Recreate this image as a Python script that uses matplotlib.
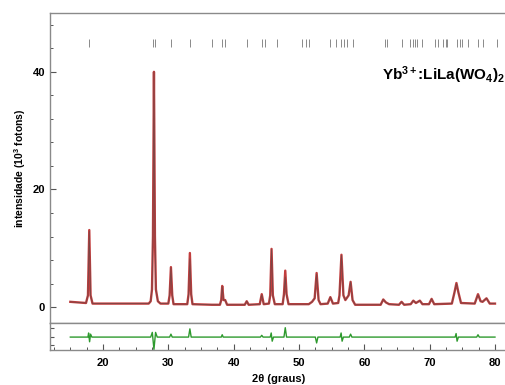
import matplotlib
matplotlib.use("Agg")
import matplotlib.pyplot as plt
from matplotlib.ticker import MultipleLocator

plt.rcParams['font.family'] = ['Liberation Sans', 'DejaVu Sans']
plt.rcParams['font.weight'] = 'bold'
plt.rcParams['mathtext.fontset'] = 'custom'
plt.rcParams['mathtext.rm'] = 'Liberation Sans:bold'
plt.rcParams['mathtext.bf'] = 'Liberation Sans:bold'
plt.rcParams['mathtext.it'] = 'Liberation Sans:bold'
plt.rcParams['mathtext.default'] = 'bf'

# profile points (2theta, intensity in 10^3 photons)
two_theta = [15.0, 17.4, 17.7, 17.9, 18.1, 18.4,
             27.0, 27.3, 27.5, 27.65, 27.8, 27.95, 28.1, 28.4, 28.8,
             30.0, 30.2, 30.4, 30.6, 30.8,
             32.9, 33.1, 33.3, 33.5, 33.7,
             36.7, 37.9, 38.1, 38.25, 38.45, 38.7, 39.0,
             41.7, 42.0, 42.3,
             44.0, 44.3, 44.6,
             45.4, 45.6, 45.8, 46.0, 46.3,
             47.5, 47.7, 47.9, 48.1, 48.4,
             51.5, 52.0, 52.4, 52.7, 53.0, 53.3,
             54.4, 54.8, 55.2,
             56.0, 56.2, 56.5, 56.8, 57.1, 57.6, 57.9, 58.2, 58.6,
             62.5, 62.9, 63.3, 63.8,
             65.3, 65.7, 66.1,
             67.1, 67.5, 67.9, 68.5, 68.9,
             69.9, 70.3, 70.7,
             73.4, 73.8, 74.1, 74.4, 74.8,
             76.9, 77.4, 77.8, 78.1, 78.7, 79.2, 80.0]
obs = [0.9, 0.7, 2.0, 13.1, 2.0, 0.6,
       0.6, 1.0, 3.0, 12.0, 40.0, 12.0, 3.0, 1.0, 0.6,
       0.6, 2.0, 6.8, 2.0, 0.5,
       0.5, 2.2, 9.2, 2.2, 0.5,
       0.4, 0.4, 1.2, 3.6, 1.2, 1.2, 0.4,
       0.4, 1.0, 0.4,
       0.5, 2.2, 0.5,
       0.6, 2.0, 9.9, 2.0, 0.5,
       0.5, 2.2, 6.2, 2.2, 0.5,
       0.5, 0.9, 1.5, 5.8, 1.2, 0.5,
       0.6, 1.7, 0.6,
       0.7, 2.0, 8.9, 2.0, 1.2, 2.0, 4.3, 1.2, 0.4,
       0.4, 1.3, 0.8, 0.5,
       0.4, 0.9, 0.4,
       0.5, 1.1, 0.7, 1.1, 0.5,
       0.5, 1.4, 0.5,
       0.6, 2.5, 4.1, 2.5, 0.7,
       0.6, 2.2, 1.0, 0.9, 1.5, 0.6, 0.6]
calc = [0.9, 0.7, 2.0, 12.9, 2.0, 0.6,
        0.6, 1.0, 3.0, 12.0, 40.0, 12.0, 3.0, 1.0, 0.6,
        0.6, 2.0, 6.7, 2.0, 0.5,
        0.5, 2.0, 8.2, 2.0, 0.5,
        0.4, 0.4, 1.2, 3.5, 1.2, 1.2, 0.4,
        0.4, 1.0, 0.4,
        0.5, 2.1, 0.5,
        0.6, 2.0, 9.8, 2.0, 0.5,
        0.5, 2.0, 5.1, 2.0, 0.5,
        0.5, 0.9, 1.5, 5.6, 1.2, 0.5,
        0.6, 1.7, 0.6,
        0.7, 2.0, 8.8, 2.0, 1.2, 2.0, 4.3, 1.2, 0.4,
        0.4, 1.3, 0.8, 0.5,
        0.4, 0.9, 0.4,
        0.5, 1.1, 0.7, 1.1, 0.5,
        0.5, 1.4, 0.5,
        0.6, 2.5, 4.0, 2.5, 0.7,
        0.6, 2.1, 1.0, 0.9, 1.5, 0.6, 0.6]

# difference curve (obs - calc, offset)
diff_tt = [15.0, 17.7, 17.8, 17.95, 18.1, 18.3, 27.3, 27.55, 27.8, 28.05, 28.3,
           30.2, 30.4, 30.6, 33.1, 33.3, 33.5, 38.1, 38.25, 38.4,
           44.1, 44.3, 44.5, 45.6, 45.75, 45.9, 46.1, 47.7, 47.9, 48.1,
           52.5, 52.7, 52.9, 56.3, 56.45, 56.6, 56.8, 57.7, 57.9, 58.1,
           73.9, 74.05, 74.2, 74.4, 77.2, 77.4, 77.6, 80.0]
diff = [-5.1, -5.1, -4.4, -5.9, -4.6, -5.1, -5.1, -4.3, -7.2, -4.3, -5.1,
        -5.1, -4.6, -5.1, -5.1, -3.7, -5.1, -5.1, -4.7, -5.1,
        -5.1, -4.8, -5.1, -5.1, -4.4, -5.8, -5.1, -5.1, -3.5, -5.1,
        -5.1, -6.1, -5.1, -5.1, -4.4, -5.8, -5.1, -5.1, -4.6, -5.1,
        -5.1, -4.5, -5.8, -5.1, -5.1, -4.7, -5.1, -5.1]

# Bragg reflection positions
bragg = [17.9, 27.7, 27.9, 30.4, 33.3, 36.7, 38.2, 38.7, 42.0,
         44.3, 44.8, 46.6, 50.5, 51.1, 51.6, 54.8, 55.6, 56.5, 56.9, 57.4, 58.3,
         63.2, 63.5, 65.8, 67.0, 67.4, 67.7, 68.0, 68.9, 70.8, 71.3, 72.1,
         72.5, 72.7, 74.2, 74.7, 75.0, 75.9, 77.4, 78.2, 80.3]

fig = plt.figure(figsize=(5.06, 3.85), dpi=100)
ax = fig.add_axes([50 / 506, 1 - 323 / 385, 457 / 506, 310 / 385])
axd = fig.add_axes([50 / 506, 1 - 350 / 385, 457 / 506, 27 / 385], sharex=ax)

ax.plot(two_theta, obs, color='#b81c1c', lw=1.7, alpha=0.85, zorder=2)
ax.plot(two_theta, calc, color='#4a4a4a', lw=0.6, alpha=0.6, zorder=3)
ax.vlines(bragg, 44.3, 45.5, color='#8a8a8a', lw=0.7)
ax.text(0.995, 0.80, r'Yb$^{3+}$:LiLa(WO$_{4}$)$_{2}$', transform=ax.transAxes,
        ha='right', va='center', fontsize=11, fontweight='bold')

axd.plot(diff_tt, diff, color='#2e9a2e', lw=1.0)

ax.set_xlim(11.89, 81.84)
ax.set_ylim(-2.7, 50)
axd.set_ylim(-7.3, -2.7)

ax.yaxis.set_major_locator(MultipleLocator(20))
ax.yaxis.set_minor_locator(MultipleLocator(4))
ax.xaxis.set_major_locator(MultipleLocator(10))
ax.xaxis.set_minor_locator(MultipleLocator(2.5))
axd.set_yticks([-6.5, -5.0, -3.5])
axd.set_yticklabels([])

for a in (ax, axd):
    for s in a.spines.values():
        s.set_color('#8a8a8a')
        s.set_linewidth(1.0)
    a.tick_params(which='both', direction='in', colors='#555555', labelcolor='black',
                  labelsize=8)
    a.tick_params(which='major', length=4, width=0.8)
    a.tick_params(which='minor', length=2.5, width=0.7)

ax.tick_params(axis='x', which='both', bottom=False, labelbottom=False)
axd.tick_params(axis='y', which='major', length=3)
axd.tick_params(axis='x', which='major', pad=6)

for lab in ax.get_yticklabels() + axd.get_xticklabels():
    lab.set_fontweight('bold')

axd.set_xlabel('2θ (graus)', fontsize=8, fontweight='bold', labelpad=4)
ax.set_ylabel('intensidade (10$^{3}$ fotons)', fontsize=7.5, fontweight='bold', labelpad=3)

fig.savefig('out.png', dpi=100)
